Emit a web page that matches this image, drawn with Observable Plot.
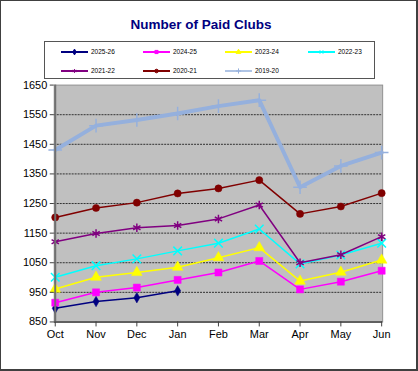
<!DOCTYPE html>
<html>
<head>
<meta charset="utf-8">
<script src="https://cdn.jsdelivr.net/npm/d3@7"></script>
<script src="https://cdn.jsdelivr.net/npm/@observablehq/plot@0.6"></script>
<style>
  html, body { margin: 0; padding: 0; background: #fff; }
  #wrap { position: relative; width: 418px; height: 371px; box-sizing: border-box; border: 1px solid #404040; border-right-width: 2px; border-bottom-width: 2px; overflow: hidden; font-family: "Liberation Sans", Arial, sans-serif; }
  #chart { position: absolute; left: -1px; top: -1px; }
  #title { position: absolute; left: 0; top: 16px; width: 400px; text-align: center; font-weight: bold; font-size: 13.5px; color: #000080; }
  #legend { position: absolute; left: 43px; top: 40px; width: 331px; height: 38px; border: 1px solid #555; box-sizing: border-box; background: #fff; }
  .item { position: absolute; font-size: 6.5px; color: #000; }
</style>
</head>
<body>
<div id="wrap">
  <div id="chart"></div>
  <div id="title">Number of Paid Clubs</div>
  <div id="legend"></div>
</div>
<script>
const months = ["Oct","Nov","Dec","Jan","Feb","Mar","Apr","May","Jun"];
const seriesNames = ["2025-26","2024-25","2023-24","2022-23","2021-22","2020-21","2019-20"];
const v2526 = [896, 919, 932, 955];
const v2425 = [915, 950, 966, 992, 1017, 1056, 960, 986, 1023];
const v2324 = [961, 1001, 1017, 1035, 1067, 1101, 988, 1018, 1059];
const v2223 = [1001, 1040, 1063, 1090, 1116, 1164, 1046, 1076, 1116];
const v2122 = [1121, 1149, 1168, 1176, 1198, 1245, 1050, 1077, 1138];
const v2021 = [1203, 1235, 1253, 1284, 1301, 1329, 1215, 1240, 1285];
const v1920 = [1431, 1513, 1532, 1554, 1579, 1599, 1305, 1377, 1422];
const yTicks = [850, 950, 1050, 1150, 1250, 1350, 1450, 1550, 1650];

const styles = {
  "2025-26": {color: "#000080", symbol: "diamond", r: 3.2, width: 1.5, fill: true},
  "2024-25": {color: "#FF00FF", symbol: "square", r: 4, width: 1.5, fill: true},
  "2023-24": {color: "#FFFF00", symbol: "triangle", r: 4, width: 1.5, fill: true},
  "2022-23": {color: "#00FFFF", symbol: "times", r: 4, width: 1.5, fill: false},
  "2021-22": {color: "#800080", symbol: "asterisk", r: 4, width: 1.5, fill: false},
  "2020-21": {color: "#800000", symbol: "circle", r: 3.6, width: 1.5, fill: true},
  "2019-20": {color: "#95B0DD", symbol: "plus", r: 4.5, width: 4, fill: false}
};
const valuesByName = {"2025-26": v2526, "2024-25": v2425, "2023-24": v2324, "2022-23": v2223, "2021-22": v2122, "2020-21": v2021, "2019-20": v1920};

const marks = [
  Plot.frame({fill: "#C0C0C0", stroke: "#909090"}),
  Plot.gridY(yTicks.slice(1, -1), {stroke: "#303030", strokeOpacity: 1, strokeDasharray: "2,1"}),
];
for (const name of seriesNames) {
  const s = styles[name];
  const d = valuesByName[name].map((v, i) => ({month: months[i], value: v}));
  marks.push(Plot.line(d, {x: "month", y: "value", stroke: s.color, strokeWidth: s.width}));
  marks.push(Plot.dot(d, {x: "month", y: "value", symbol: () => s.symbol, r: s.r,
    fill: s.fill ? s.color : "none", stroke: s.color, strokeWidth: s.fill ? 0.5 : 1.5}));
}
marks.push(
  Plot.ruleY([850], {stroke: "#606060", strokeWidth: 2}),
  Plot.ruleX([months[0]], {stroke: "#707070", strokeWidth: 2}),
  Plot.axisY({ticks: yTicks, tickFormat: d => String(d), tickSize: 4, tickPadding: 3, stroke: "#404040", fill: "#000", fontSize: 11, label: null}),
  Plot.axisX({tickSize: 5, tickPadding: 3, stroke: "#404040", fill: "#000", fontSize: 11, label: null})
);

const chart = Plot.plot({
  width: 418, height: 371,
  marginTop: 85, marginLeft: 54, marginRight: 34, marginBottom: 48,
  style: {background: "transparent", fontFamily: "'Liberation Sans', Arial, sans-serif", fontSize: "11px", color: "#000"},
  x: {type: "point", domain: months, padding: 0, label: null},
  y: {domain: [850, 1650], label: null},
  marks
});
document.getElementById("chart").appendChild(chart);

// Legend
const legend = d3.select("#legend");
const cols = [16, 98, 180, 263];
const rows = [10, 29];
seriesNames.forEach((name, i) => {
  const s = styles[name];
  const left = cols[i % 4], top = rows[Math.floor(i / 4)];
  const item = legend.append("div").attr("class", "item").style("left", left + "px").style("top", (top - 5) + "px");
  const svg = item.append("svg").attr("width", 30).attr("height", 10).style("vertical-align", "middle");
  svg.append("line").attr("x1", 0).attr("x2", 27).attr("y1", 5).attr("y2", 5)
    .attr("stroke", s.color).attr("stroke-width", name === "2019-20" ? 1.5 : 2);
  const sym = {diamond: d3.symbolDiamond, square: d3.symbolSquare, triangle: d3.symbolTriangle, times: d3.symbolTimes, asterisk: d3.symbolAsterisk, circle: d3.symbolCircle, plus: d3.symbolPlus}[s.symbol];
  svg.append("path").attr("d", d3.symbol(sym, 10)()).attr("transform", "translate(13.5,5)")
    .attr("fill", s.fill ? s.color : "none").attr("stroke", s.color).attr("stroke-width", 1);
  item.append("span").text(name).style("position", "absolute").style("left", "30px").style("top", "1px").style("white-space", "nowrap");
});
</script>
</body>
</html>
